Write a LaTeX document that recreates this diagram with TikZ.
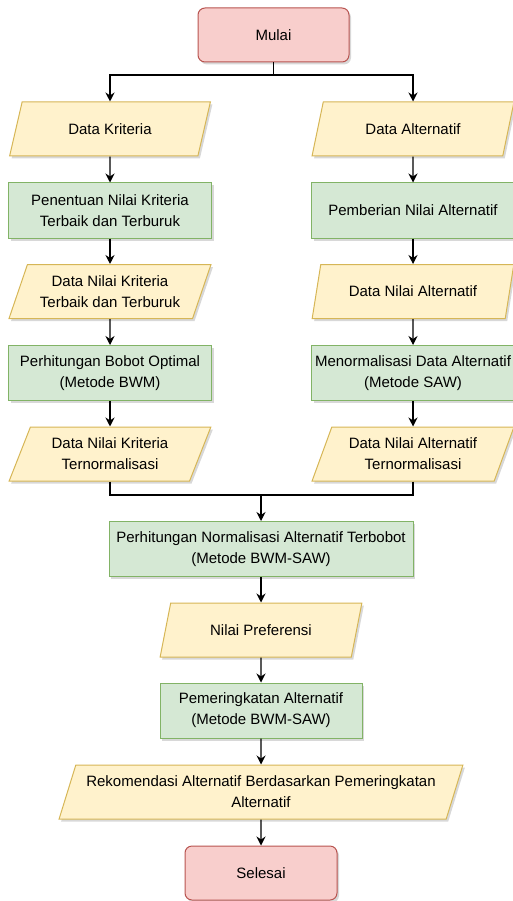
\documentclass[tikz,border=0pt]{standalone}
\usepackage{fontspec}
\setmainfont{Liberation Sans}
\usetikzlibrary{shapes.geometric,arrows.meta,shadows}
\definecolor{redfill}{HTML}{F8CECC}
\definecolor{redline}{HTML}{B85450}
\definecolor{yellowfill}{HTML}{FFF2CC}
\definecolor{yellowline}{HTML}{D6B656}
\definecolor{greenfill}{HTML}{D5E8D4}
\definecolor{greenline}{HTML}{82B366}
\begin{document}
\begin{tikzpicture}[x=1pt,y=-1pt,
  font=\fontsize{15}{21}\selectfont,
  softshadow/.style={drop shadow={shadow xshift=2pt,shadow yshift=-2.5pt,opacity=0.22,fill=black!70}},
  terminal/.style={rectangle,rounded corners=7pt,draw=redline,fill=redfill,line width=1pt,
    minimum width=151pt,minimum height=54pt,align=center,softshadow},
  process/.style={rectangle,draw=greenline,fill=greenfill,line width=1pt,
    minimum width=203pt,minimum height=55pt,align=center,inner sep=2pt,softshadow},
  data/.style={trapezium,trapezium left angle=65,trapezium right angle=115,trapezium stretches=true,
    draw=yellowline,fill=yellowfill,line width=1pt,minimum width=202pt,minimum height=54pt,
    align=center,inner sep=1pt,softshadow},
  flow/.style={-{Stealth[length=9pt,width=9pt,inset=3pt]},line width=1.1pt}]

\useasboundingbox (0,0) rectangle (512,901);

% start
\node[terminal] (mulai) at (273.5,35) {Mulai};

% kriteria column
\node[data]    (kriteria)  at (110,129)   {Data Kriteria};
\node[process] (penentuan) at (110,210.5) {Penentuan Nilai Kriteria\\Terbaik dan Terburuk};
\node[data]    (nilaikrit) at (110,291.5) {Data Nilai Kriteria\\Terbaik dan Terburuk};
\node[process] (bobot)     at (110,373)   {Perhitungan Bobot Optimal\\(Metode BWM)};
\node[data]    (kritnorm)  at (110,454)   {Data Nilai Kriteria\\Ternormalisasi};

% alternatif column
\node[data]    (alternatif) at (413,129)   {Data Alternatif};
\node[process] (pemberian)  at (413,210.5) {Pemberian Nilai Alternatif};
\node[data]    (nilaialt)   at (413,291.5) {Data Nilai Alternatif};
\node[process] (normalt)    at (413,373)   {Menormalisasi Data Alternatif\\(Metode SAW)};
\node[data]    (altnorm)    at (413,454)   {Data Nilai Alternatif\\Ternormalisasi};

% main column
\node[process,minimum width=304pt] (terbobot) at (261,549) {Perhitungan Normalisasi Alternatif Terbobot\\(Metode BWM-SAW)};
\node[data]    (preferensi) at (261,630)   {Nilai Preferensi};
\node[process,minimum width=202pt] (peringkat) at (261,710.5) {Pemeringkatan Alternatif\\(Metode BWM-SAW)};
\node[data,minimum width=404pt] (rekomendasi) at (261,792) {Rekomendasi Alternatif Berdasarkan Pemeringkatan\\Alternatif};
\node[terminal,minimum width=152pt] (selesai) at (261,873) {Selesai};

% connectors
\coordinate (split) at (273.5,75);
\coordinate (merge) at (261,495);
\draw[line width=1.1pt] (mulai) -- (split);
\draw[flow] (split) -| (kriteria);
\draw[flow] (split) -| (alternatif);
\draw[flow] (kriteria) -- (penentuan);
\draw[flow] (penentuan) -- (nilaikrit);
\draw[flow] (nilaikrit) -- (bobot);
\draw[flow] (bobot) -- (kritnorm);
\draw[flow] (alternatif) -- (pemberian);
\draw[flow] (pemberian) -- (nilaialt);
\draw[flow] (nilaialt) -- (normalt);
\draw[flow] (normalt) -- (altnorm);
\draw[line width=1.1pt] (kritnorm) |- (merge);
\draw[line width=1.1pt] (altnorm) |- (merge);
\draw[flow] (merge) -- (terbobot);
\draw[flow] (terbobot) -- (preferensi);
\draw[flow] (preferensi) -- (peringkat);
\draw[flow] (peringkat) -- (rekomendasi);
\draw[flow] (rekomendasi) -- (selesai);
\end{tikzpicture}
\end{document}
